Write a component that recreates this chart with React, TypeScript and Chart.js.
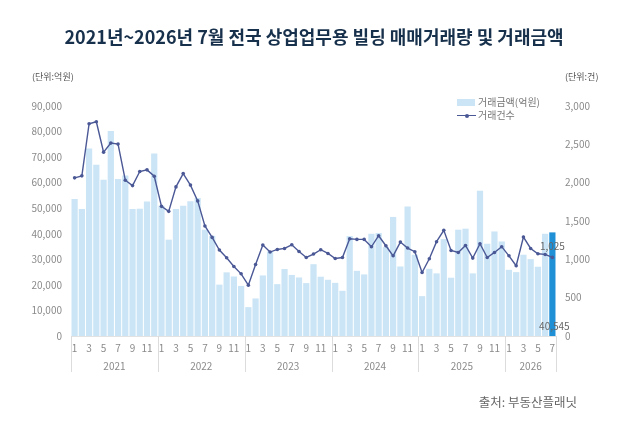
import React, { useEffect, useRef } from "react";
import { Chart, registerables } from "chart.js";

Chart.register(...registerables);

const titleText = "2021년~2026년 7월 전국 상업업무용 빌딩 매매거래량 및 거래금액";
const leftUnit = "(단위:억원)";
const rightUnit = "(단위:건)";
const sourceText = "출처: 부동산플래닛";
const amountName = "거래금액(억원)";
const countName = "거래건수";

const years = ["2021", "2022", "2023", "2024", "2025", "2026"];
const monthsPerYear = [12, 12, 12, 12, 12, 7];

const amountValues = [
  53600, 49700, 73400, 67000, 61100, 80200, 61400, 62800, 49700, 49800, 52600, 71400,
  51000, 37700, 49700, 51000, 52700, 54000, 41600, 39200, 20100, 24900, 23300, 19600,
  11300, 14700, 23700, 33100, 20300, 26200, 23900, 22900, 20700, 28100, 23200, 22000,
  20800, 17700, 39100, 25500, 24100, 40000, 40300, 34800, 46600, 27200, 50700, 31800,
  15600, 26300, 24500, 37900, 22800, 41600, 42000, 24500, 56800, 36100, 40900, 37000,
  25900, 25000, 31800, 30100, 27100, 40000, 40545,
];

const countValues = [
  2063, 2089, 2769, 2795, 2398, 2516, 2503, 2032, 1962, 2145, 2167, 2084,
  1691, 1626, 1945, 2119, 1968, 1762, 1435, 1286, 1121, 1020, 907, 811,
  663, 933, 1186, 1095, 1129, 1142, 1190, 1103, 1024, 1069, 1125, 1077,
  1011, 1024, 1269, 1260, 1260, 1164, 1308, 1177, 1046, 1225, 1147, 1099,
  828, 1008, 1230, 1378, 1116, 1090, 1181, 1016, 1203, 1024, 1090, 1165,
  1046, 916, 1291, 1142, 1073, 1064, 1025,
];

const leftMax = 90000;
const rightMax = 3000;

const FONT = "'Noto Sans CJK KR', 'Noto Sans', sans-serif";
const BAR = "#cbe5f6";
const BAR_LAST = "#1f8fd6";
const LINE = "#4b5896";

const categories: string[] = [];
const monthOf: number[] = [];
years.forEach((y, i) => {
  for (let m = 1; m <= monthsPerYear[i]; m++) {
    categories.push(`${y}-${m}`);
    monthOf.push(m);
  }
});

const overlayPlugin = {
  id: "overlay",
  afterDraw(chart: any) {
    const { ctx, chartArea, scales } = chart;
    const x = scales.x;
    const bottom = chartArea.bottom;
    const step = x.getPixelForValue(1) - x.getPixelForValue(0);
    ctx.save();
    ctx.strokeStyle = "#dcdcdc";
    ctx.lineWidth = 1;
    ctx.fillStyle = "#8a8a8a";
    ctx.font = `10px ${FONT}`;
    ctx.textAlign = "center";
    ctx.textBaseline = "middle";
    let idx = 0;
    years.forEach((y, i) => {
      const start = idx;
      const end = idx + monthsPerYear[i] - 1;
      const left = x.getPixelForValue(start) - step / 2;
      const right = x.getPixelForValue(end) + step / 2;
      ctx.beginPath();
      ctx.moveTo(Math.round(left) + 0.5, bottom);
      ctx.lineTo(Math.round(left) + 0.5, bottom + 36);
      ctx.stroke();
      if (i === years.length - 1) {
        ctx.beginPath();
        ctx.moveTo(Math.round(right) + 0.5, bottom);
        ctx.lineTo(Math.round(right) + 0.5, bottom + 36);
        ctx.stroke();
      }
      ctx.fillText(y, (left + right) / 2, bottom + 30);
      idx = end + 1;
    });
    // last values
    const li = amountValues.length - 1;
    const px = x.getPixelForValue(li);
    const py = scales.y1.getPixelForValue(countValues[li]);
    ctx.fillStyle = "#666";
    ctx.fillText(countValues[li].toLocaleString("en-US"), px, py - 11);
    ctx.fillText(amountValues[li].toLocaleString("en-US"), px + 2, bottom - 10);
    ctx.restore();
  },
};

export default function App() {
  const ref = useRef<HTMLCanvasElement | null>(null);

  useEffect(() => {
    document.body.style.margin = "0";
    if (!ref.current) return;
    const chart = new Chart(ref.current, {
      type: "bar",
      data: {
        labels: categories,
        datasets: [
          {
            type: "line",
            label: countName,
            data: countValues,
            yAxisID: "y1",
            borderColor: LINE,
            backgroundColor: LINE,
            borderWidth: 1.4,
            pointRadius: 1.8,
            pointBackgroundColor: LINE,
            pointBorderWidth: 0,
            tension: 0,
            order: 0,
          } as any,
          {
            type: "bar",
            label: amountName,
            data: amountValues,
            yAxisID: "y",
            backgroundColor: amountValues.map((_, i) => (i === amountValues.length - 1 ? BAR_LAST : BAR)),
            barPercentage: 0.86,
            categoryPercentage: 1,
            order: 1,
          },
        ],
      },
      options: {
        animation: false,
        responsive: true,
        maintainAspectRatio: false,
        layout: { padding: { top: 106, left: 0, right: 0, bottom: 0 } },
        plugins: {
          legend: { display: false },
          tooltip: { enabled: false },
          title: { display: false },
        },
        scales: {
          x: {
            grid: { display: false, drawTicks: false },
            border: { display: true, color: "#e2e2e2" },
            ticks: {
              autoSkip: false,
              maxRotation: 0,
              minRotation: 0,
              padding: 6,
              color: "#8a8a8a",
              font: { family: FONT, size: 10 },
              callback: (_v: any, i: number) => (monthOf[i] % 2 === 1 ? String(monthOf[i]) : ""),
            },
            afterFit: (s: any) => {
              s.height = 102;
            },
          },
          y: {
            position: "left",
            min: 0,
            max: leftMax,
            grid: { display: false, drawTicks: false },
            border: { display: false },
            ticks: {
              stepSize: 10000,
              padding: 9,
              color: "#8a8a8a",
              font: { family: FONT, size: 10 },
              callback: (v: any) => Number(v).toLocaleString("en-US"),
            },
            afterFit: (s: any) => {
              s.width = 71;
            },
          },
          y1: {
            position: "right",
            min: 0,
            max: rightMax,
            grid: { display: false, drawTicks: false },
            border: { display: false },
            ticks: {
              stepSize: 500,
              padding: 9,
              color: "#8a8a8a",
              font: { family: FONT, size: 10 },
              callback: (v: any) => Number(v).toLocaleString("en-US"),
            },
            afterFit: (s: any) => {
              s.width = 72;
            },
          },
        },
      },
      plugins: [overlayPlugin],
    });
    return () => chart.destroy();
  }, []);

  const txt: React.CSSProperties = { position: "absolute", fontFamily: FONT, whiteSpace: "nowrap", lineHeight: 1 };

  return (
    <div style={{ position: "relative", width: 628, height: 438, background: "#fff", overflow: "hidden" }}>
      <canvas ref={ref} style={{ position: "absolute", left: 0, top: 0, width: 628, height: 438 }} />
      <div style={{ ...txt, left: 0, width: 628, top: 27, textAlign: "center", fontSize: 18, fontWeight: 700, color: "#17304b" }}>
        {titleText}
      </div>
      <div style={{ ...txt, left: 32, top: 72, fontSize: 9, color: "#555" }}>{leftUnit}</div>
      <div style={{ ...txt, left: 565, top: 72, fontSize: 9, color: "#555" }}>{rightUnit}</div>
      <div style={{ ...txt, left: 457, top: 99, width: 18, height: 7, background: BAR }} />
      <div style={{ ...txt, left: 478, top: 97, fontSize: 10, color: "#777" }}>{amountName}</div>
      <div style={{ ...txt, left: 457, top: 115, width: 19, height: 1.4, background: LINE }} />
      <div style={{ ...txt, left: 464.5, top: 114, width: 4, height: 4, borderRadius: 2, background: LINE }} />
      <div style={{ ...txt, left: 478, top: 110, fontSize: 10, color: "#777" }}>{countName}</div>
      <div style={{ ...txt, right: 51, top: 396, fontSize: 12.5, color: "#666" }}>{sourceText}</div>
    </div>
  );
}
